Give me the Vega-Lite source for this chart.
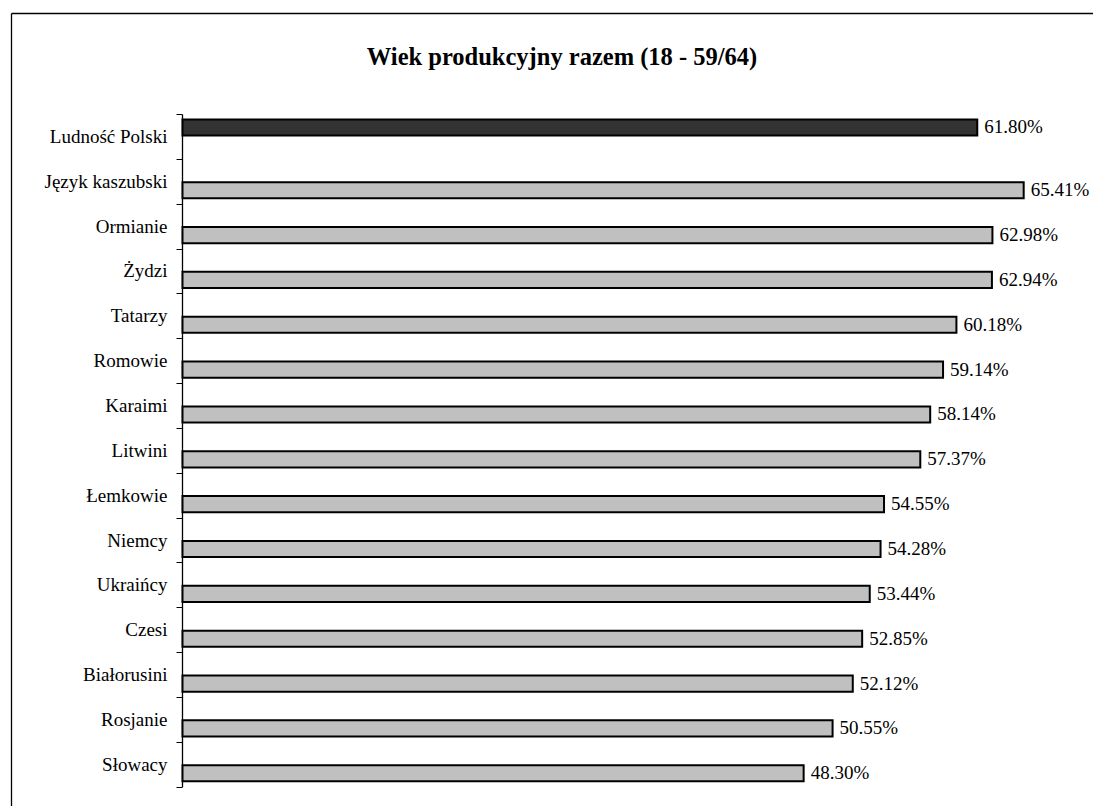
{
  "$schema": "https://vega.github.io/schema/vega-lite/v6.json",
  "autosize": {"type": "none"},
  "padding": {"left": 11, "top": 13, "right": 0, "bottom": 0},
  "width": 1082,
  "height": 793,
  "background": "white",
  "title": {
    "text": "Wiek produkcyjny razem (18 - 59/64)",
    "font": "Liberation Serif",
    "fontSize": 24.5,
    "fontWeight": "bold",
    "color": "black",
    "anchor": "middle",
    "frame": "group",
    "baseline": "alphabetic",
    "offset": -53,
    "dx": 10,
    "dy": 32
  },
  "data": {
    "values": [
      {"cat": "Ludność Polski", "value": 0.6180, "s": "a"},
      {"cat": "Język kaszubski", "value": 0.6541, "s": "b"},
      {"cat": "Ormianie", "value": 0.6298, "s": "b"},
      {"cat": "Żydzi", "value": 0.6294, "s": "b"},
      {"cat": "Tatarzy", "value": 0.6018, "s": "b"},
      {"cat": "Romowie", "value": 0.5914, "s": "b"},
      {"cat": "Karaimi", "value": 0.5814, "s": "b"},
      {"cat": "Litwini", "value": 0.5737, "s": "b"},
      {"cat": "Łemkowie", "value": 0.5455, "s": "b"},
      {"cat": "Niemcy", "value": 0.5428, "s": "b"},
      {"cat": "Ukraińcy", "value": 0.5344, "s": "b"},
      {"cat": "Czesi", "value": 0.5285, "s": "b"},
      {"cat": "Białorusini", "value": 0.5212, "s": "b"},
      {"cat": "Rosjanie", "value": 0.5055, "s": "b"},
      {"cat": "Słowacy", "value": 0.4830, "s": "b"}
    ]
  },
  "resolve": {"scale": {"y": "independent"}, "axis": {"y": "independent"}},
  "layer": [
    {
      "mark": {"type": "bar", "stroke": "black", "strokeWidth": 2},
      "encoding": {
        "y": {
          "field": "cat", "type": "nominal", "sort": null,
          "scale": {"paddingInner": 0, "paddingOuter": 0, "range": [101, 773.7]},
          "axis": {
            "orient": "left", "offset": -171, "title": null,
            "domain": true, "domainColor": "black", "domainWidth": 1.3,
            "ticks": true, "tickBand": "extent",
            "tickSize": 6, "tickColor": "black", "tickWidth": 1,
            "labelFont": "Liberation Serif", "labelFontSize": 19,
            "labelColor": "black", "labelPadding": 9, "labelLimit": 300
          }
        },
        "yOffset": {
          "field": "s", "type": "nominal",
          "scale": {"domain": ["a", "b"], "paddingInner": 0.1, "paddingOuter": 0.3}
        },
        "x": {
          "field": "value", "type": "quantitative",
          "scale": {"domain": [-0.13336, 0.708], "nice": false, "zero": false},
          "axis": {"orient": "top", "title": null, "domain": true, "domainColor": "black", "domainWidth": 1.3, "ticks": false, "labels": false, "grid": false}
        },
        "x2": {"datum": 0},
        "color": {
          "field": "s", "type": "nominal",
          "scale": {"domain": ["a", "b"], "range": ["#333333", "#c0c0c0"]},
          "legend": null
        }
      }
    },
    {
      "mark": {"type": "text", "align": "left", "baseline": "middle", "dx": 7, "font": "Liberation Serif", "fontSize": 19, "color": "black"},
      "encoding": {
        "y": {
          "field": "cat", "type": "nominal", "sort": null,
          "scale": {"paddingInner": 0, "paddingOuter": 0, "range": [101, 773.7]},
          "axis": null
        },
        "yOffset": {"field": "s", "type": "nominal"},
        "x": {
          "field": "value", "type": "quantitative",
          "axis": {"orient": "top", "title": null, "domain": true, "domainColor": "black", "domainWidth": 1.3, "ticks": false, "labels": false, "grid": false}
        },
        "text": {"field": "value", "type": "quantitative", "format": ".2%"}
      }
    },
    {
      "mark": {"type": "point", "opacity": 0},
      "encoding": {
        "y": {
          "datum": 0, "type": "quantitative",
          "scale": {"domain": [0, 1], "nice": false},
          "axis": {"orient": "left", "offset": 0, "title": null, "domain": true, "domainColor": "black", "domainWidth": 1.3, "ticks": false, "labels": false, "grid": false}
        },
        "x": {
          "datum": 0, "type": "quantitative",
          "axis": {"orient": "top", "title": null, "domain": true, "domainColor": "black", "domainWidth": 1.3, "ticks": false, "labels": false, "grid": false}
        }
      }
    }
  ],
  "config": {"view": {"stroke": null}}
}
